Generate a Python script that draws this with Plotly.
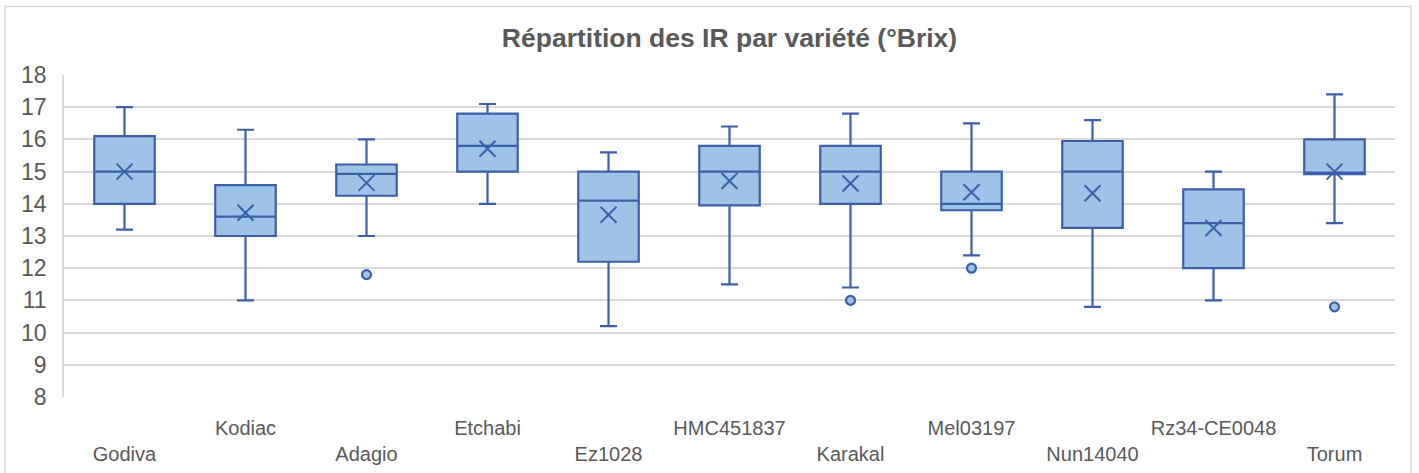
import plotly.graph_objects as go

categories = ["Godiva", "Kodiac", "Adagio", "Etchabi", "Ez1028", "HMC451837",
              "Karakal", "Mel03197", "Nun14040", "Rz34-CE0048", "Torum"]
lower_whisker = [13.2, 11.0, 13.0, 14.0, 10.2, 11.5, 11.4, 12.4, 10.8, 11.0, 13.4]
q1_values = [14.0, 13.0, 14.25, 15.0, 12.2, 13.95, 14.0, 13.8, 13.25, 12.0, 14.92]
median_values = [15.0, 13.6, 14.93, 15.8, 14.1, 15.0, 15.0, 14.0, 15.0, 13.4, 14.97]
q3_values = [16.1, 14.58, 15.22, 16.8, 15.0, 15.8, 15.8, 15.0, 15.95, 14.45, 16.0]
upper_whisker = [17.0, 16.3, 16.0, 17.1, 15.6, 16.4, 16.8, 16.5, 16.6, 15.0, 17.4]
mean_values = [15.0, 13.72, 14.65, 15.71, 13.66, 14.71, 14.63, 14.36, 14.33, 13.25, 15.0]
outlier_categories = ["Adagio", "Karakal", "Mel03197", "Torum"]
outlier_values = [11.8, 11.0, 12.0, 10.8]

title_text = "Répartition des IR par variété (°Brix)"
y_ticks = list(range(8, 19))

FILL = "#9DC3E6"
LINE = "#3D5FA8"
TEXT = "#595959"
GRID = "#D9D9D9"
FONT = "Liberation Sans, Arial, sans-serif"

tick_text = [("<br>" + c) if i % 2 == 0 else c for i, c in enumerate(categories)]

fig = go.Figure()
fig.add_trace(go.Box(
    x=categories,
    q1=q1_values, median=median_values, q3=q3_values,
    lowerfence=lower_whisker, upperfence=upper_whisker,
    fillcolor=FILL, line=dict(color=LINE, width=2.2),
    width=0.5, whiskerwidth=0.28, boxpoints=False, showlegend=False,
    hoverinfo="skip",
))
fig.add_trace(go.Scatter(
    x=categories, y=mean_values, mode="markers",
    marker=dict(symbol="x-thin-open", size=16, color=LINE, line=dict(color=LINE, width=2)),
    showlegend=False, hoverinfo="skip",
))
fig.add_trace(go.Scatter(
    x=outlier_categories, y=outlier_values, mode="markers",
    marker=dict(symbol="circle", size=9, color=FILL, line=dict(color=LINE, width=2.2)),
    showlegend=False, hoverinfo="skip",
))

fig.update_layout(
    width=1419, height=473,
    margin=dict(l=64, r=24, t=75, b=76, autoexpand=False),
    paper_bgcolor="white", plot_bgcolor="white",
    font=dict(family=FONT, color=TEXT),
    title=dict(text="<b>" + title_text + "</b>", x=0.5, xref="paper", xanchor="center",
               y=1 - 38 / 473, yref="container", yanchor="middle", automargin=False,
               font=dict(size=26.5, color=TEXT, family=FONT)),
    xaxis=dict(
        type="category", categoryorder="array", categoryarray=categories,
        tickmode="array", tickvals=categories, ticktext=tick_text,
        showgrid=False, showline=False, zeroline=False, ticks="",
        tickfont=dict(size=20, color=TEXT), ticklabelstandoff=17, automargin=False,
        range=[-0.5, len(categories) - 0.5],
    ),
    yaxis=dict(
        range=[8, 18], tickmode="array", tickvals=y_ticks,
        showgrid=True, gridcolor=GRID, gridwidth=1.5,
        showline=True, linecolor=GRID, linewidth=1.5,
        zeroline=False, ticks="", tickfont=dict(size=23, color=TEXT),
        ticklabelstandoff=11, automargin=False,
    ),
    shapes=[dict(type="rect", xref="paper", yref="paper",
                 x0=-0.0443, x1=1.012, y0=-0.4, y1=1.213,
                 line=dict(color=GRID, width=1.5), fillcolor="rgba(0,0,0,0)", layer="below")],
)

fig.write_html("out.html", config={"displayModeBar": False},
               post_script="document.body.style.margin='0';")
